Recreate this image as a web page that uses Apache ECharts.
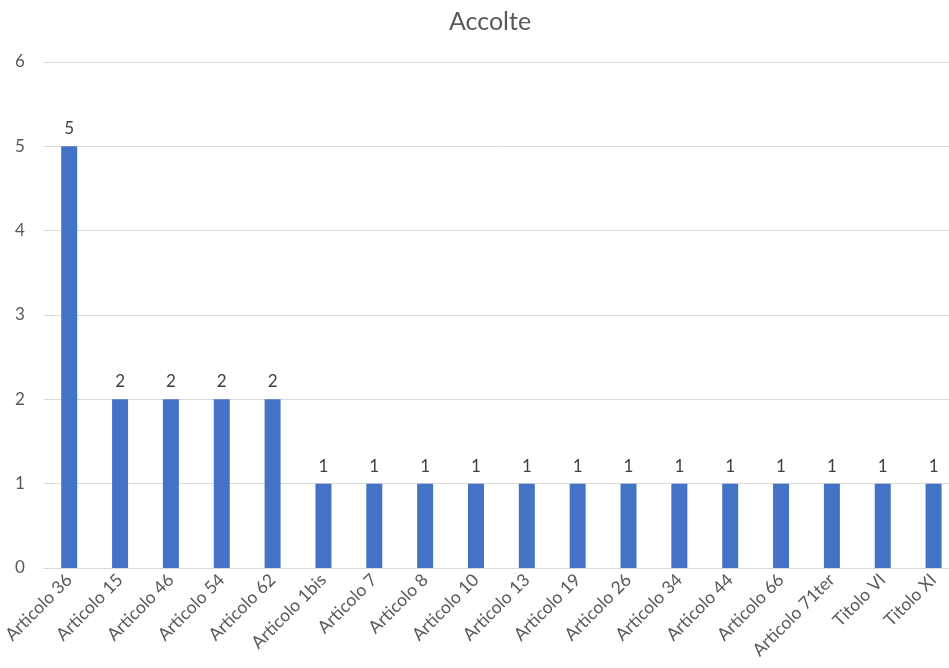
<!DOCTYPE html>
<html>
<head>
<meta charset="utf-8">
<script src="https://cdn.jsdelivr.net/npm/echarts@6/dist/echarts.min.js"></script>
<style>
  html, body { margin: 0; padding: 0; background: #fff; overflow: hidden; }
  /* plot area runs slightly past the right edge of the window */
  #chart { width: 959px; height: 668px; }
</style>
</head>
<body>
<div id="chart"></div>
<script>
// Categories and counts for the "Accolte" bar chart
const categories = [
  'Articolo 36', 'Articolo 15', 'Articolo 46', 'Articolo 54', 'Articolo 62',
  'Articolo 1bis', 'Articolo 7', 'Articolo 8', 'Articolo 10', 'Articolo 13',
  'Articolo 19', 'Articolo 26', 'Articolo 34', 'Articolo 44', 'Articolo 66',
  'Articolo 71ter', 'Titolo VI', 'Titolo XI'
];
const accolte = [5, 2, 2, 2, 2, 1, 1, 1, 1, 1, 1, 1, 1, 1, 1, 1, 1, 1];
const yTicks = [0, 1, 2, 3, 4, 5, 6];

const FONT = 'Lato, "Open Sans", sans-serif';

const chart = echarts.init(document.getElementById('chart'), null, { renderer: 'canvas' });
chart.setOption({
  animation: false,
  backgroundColor: '#ffffff',
  title: {
    text: 'Accolte',
    left: 485,
    top: 4,
    textAlign: 'center',
    textStyle: { fontFamily: FONT, fontSize: 25, fontWeight: 'normal', color: '#595959' }
  },
  grid: { left: 43, right: 0, top: 62, bottom: 100, containLabel: false },
  xAxis: {
    type: 'category',
    data: categories,
    axisLine: { show: true, lineStyle: { color: '#d9d9d9', width: 1 } },
    axisTick: { show: false },
    axisLabel: {
      interval: 0,
      rotate: 45,
      margin: 9,
      fontFamily: FONT,
      fontSize: 17.5,
      color: '#595959'
    }
  },
  yAxis: {
    type: 'value',
    min: yTicks[0],
    max: yTicks[yTicks.length - 1],
    interval: 1,
    axisLine: { show: false },
    axisTick: { show: false },
    axisLabel: { fontFamily: FONT, fontSize: 17, color: '#595959', margin: 19 },
    splitLine: { lineStyle: { color: '#d9d9d9', width: 1 } }
  },
  series: [{
    type: 'bar',
    data: accolte,
    barWidth: 16,
    itemStyle: { color: '#4472c4' },
    label: {
      show: true,
      position: 'top',
      distance: 9,
      fontFamily: FONT,
      fontSize: 17,
      color: '#404040'
    }
  }]
});
</script>
</body>
</html>
